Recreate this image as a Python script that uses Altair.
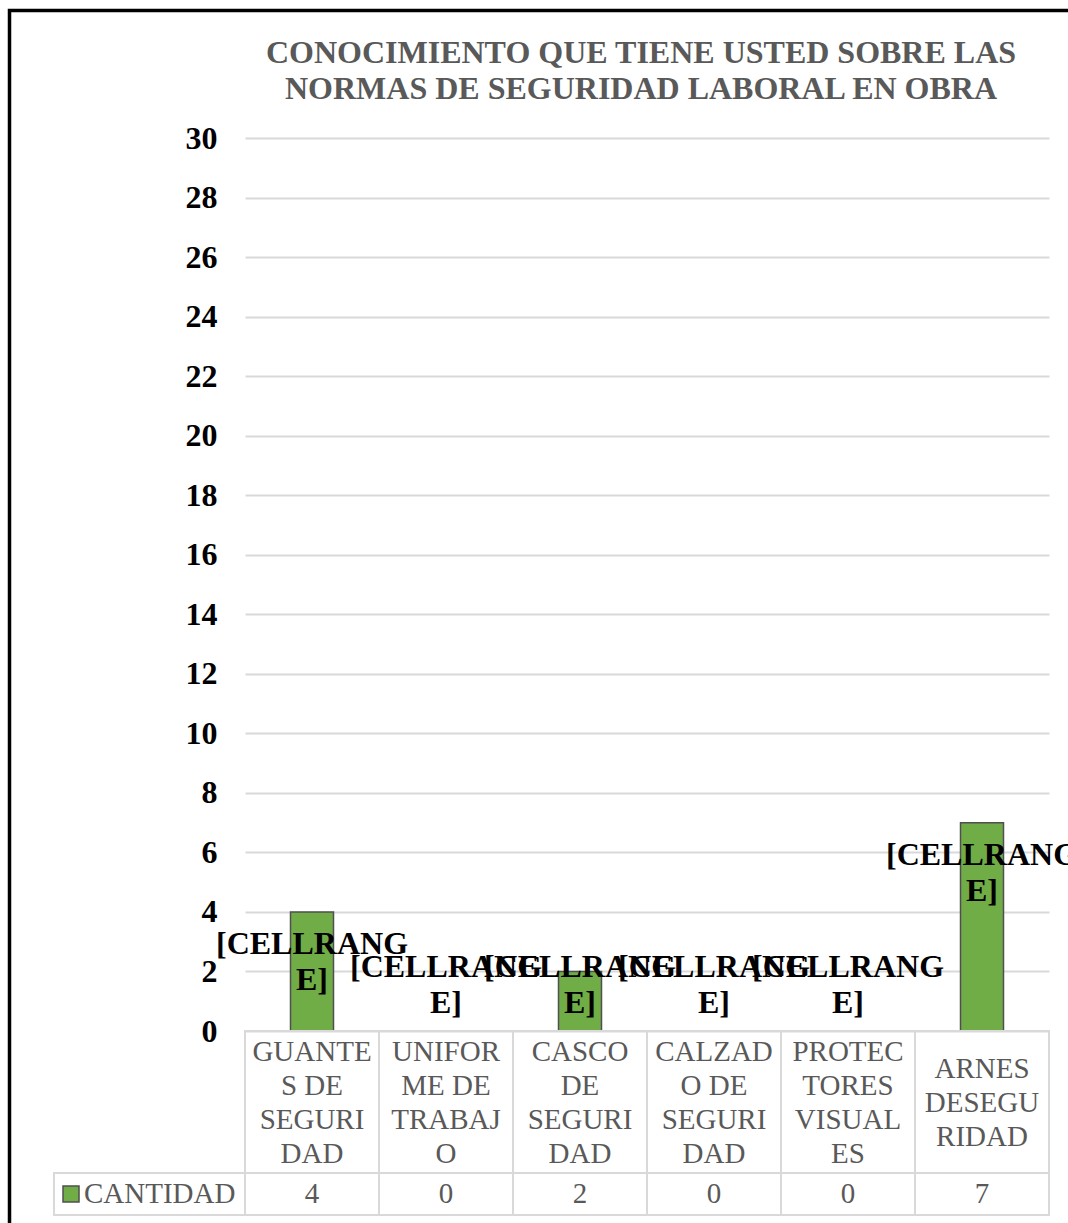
import altair as alt
import pandas as pd

# ---------------- data ----------------
CATEGORIES = [
    "GUANTES DE SEGURIDAD",
    "UNIFORME DE TRABAJO",
    "CASCO DE SEGURIDAD",
    "CALZADO DE SEGURIDAD",
    "PROTECTORES VISUALES",
    "ARNES DESEGURIDAD",
]
CATEGORY_LINES = [
    "GUANTE\nS DE\nSEGURI\nDAD",
    "UNIFOR\nME DE\nTRABAJ\nO",
    "CASCO\nDE\nSEGURI\nDAD",
    "CALZAD\nO DE\nSEGURI\nDAD",
    "PROTEC\nTORES\nVISUAL\nES",
    "ARNES\nDESEGU\nRIDAD",
]
VALUES = [4, 0, 2, 0, 0, 7]
SERIES_NAME = "CANTIDAD"
DATA_LABEL = "[CELLRANG\nE]"
TITLE = "CONOCIMIENTO QUE TIENE USTED SOBRE LAS\nNORMAS DE SEGURIDAD LABORAL EN OBRA"
Y_TICKS = list(range(0, 31, 2))

# ---------------- layout / style ----------------
W, H = 804, 893
ROW1, ROW2 = 142, 42
CAT_LH = 34
FONT = "Liberation Serif"
GREEN = "#70AD47"
GRAY_TXT = "#595959"
GRID = "#d9d9d9"

df = pd.DataFrame({
    "cat": CATEGORIES,
    "wrapped": CATEGORY_LINES,
    "value": VALUES,
    "label": [DATA_LABEL] * len(CATEGORIES),
    "nlines": [s.count("\n") + 1 for s in CATEGORY_LINES],
})
legend_df = pd.DataFrame({"s": [SERIES_NAME]})
title_df = pd.DataFrame({"t": [TITLE]})

x = alt.X("cat:N", sort=CATEGORIES, axis=None,
          scale=alt.Scale(paddingInner=0, paddingOuter=0))
yscale = alt.Scale(domain=[0, 30], nice=False)
yaxis = alt.Axis(values=Y_TICKS, labelFont=FONT, labelFontWeight="bold",
                 labelFontSize=32, labelColor="black", labelPadding=28,
                 domain=False, ticks=False, grid=True, gridColor=GRID,
                 gridWidth=2, title=None)

base = alt.Chart(df)

bars = base.mark_bar(size=43, color=GREEN, stroke="#4F4F4F", strokeWidth=1.5).encode(
    x=x,
    y=alt.Y("value:Q", scale=yscale, axis=yaxis, title=None),
)

labels = base.transform_calculate(pos="max(datum.value, 3.24)").mark_text(
    font=FONT, fontWeight="bold", fontSize=32, color="black", baseline="top",
    lineBreak="\n", lineHeight=36, dy=17,
).encode(
    x=x,
    y=alt.Y("pos:Q", scale=yscale, axis=yaxis, title=None),
    text="label:N",
)

row1 = base.mark_rect(fillOpacity=0, stroke=GRID, strokeWidth=2).encode(
    x=x, y=alt.value(H), y2=alt.value(H + ROW1))
row2 = base.mark_rect(fillOpacity=0, stroke=GRID, strokeWidth=2).encode(
    x=x, y=alt.value(H + ROW1), y2=alt.value(H + ROW1 + ROW2))

# category labels: one layer per line count so each block is centred in its cell
cat_layers = []
for n in sorted(set(df["nlines"])):
    top = H + ROW1 / 2 - (n - 1) * CAT_LH / 2 - 13
    cat_layers.append(
        base.transform_filter(alt.datum.nlines == n).mark_text(
            font=FONT, fontSize=29, color=GRAY_TXT, baseline="top",
            lineBreak="\n", lineHeight=CAT_LH,
        ).encode(x=x, y=alt.value(top), text="wrapped:N")
    )

val_text = base.mark_text(font=FONT, fontSize=29, color=GRAY_TXT, baseline="middle").encode(
    x=x, y=alt.value(H + ROW1 + ROW2 / 2), text="value:Q")

leg = alt.Chart(legend_df)
leg_cell = leg.mark_rect(fillOpacity=0, stroke=GRID, strokeWidth=2).encode(
    x=alt.value(-191), x2=alt.value(0),
    y=alt.value(H + ROW1), y2=alt.value(H + ROW1 + ROW2))
leg_sq = leg.mark_square(size=256, fill=GREEN, stroke="#4F4F4F", strokeWidth=1.5, opacity=1).encode(
    x=alt.value(-174), y=alt.value(H + ROW1 + ROW2 / 2))
leg_txt = leg.mark_text(font=FONT, fontSize=29, color=GRAY_TXT, align="left", baseline="middle").encode(
    x=alt.value(-161), y=alt.value(H + ROW1 + ROW2 / 2), text="s:N")

title_txt = alt.Chart(title_df).mark_text(
    font=FONT, fontSize=32, fontWeight="bold", color=GRAY_TXT, align="center",
    baseline="top", lineBreak="\n", lineHeight=36,
).encode(x=alt.value(396), y=alt.value(-100), text="t:N")

frame = leg.mark_rect(fillOpacity=0, stroke="black", strokeWidth=3.5).encode(
    x=alt.value(-235.5), x2=alt.value(860),
    y=alt.value(-127.5), y2=alt.value(1110))

chart = alt.layer(
    bars, labels, row1, row2, *cat_layers, val_text, leg_cell, leg_sq, leg_txt,
    title_txt, frame
).properties(
    width=W, height=H,
    autosize=alt.AutoSizeParams(type="none"),
    padding={"left": 245, "top": 138, "right": 19, "bottom": 192},
).configure(background="white").configure_view(stroke=None)

chart.save("out.html", embed_options={"renderer": "svg", "actions": False})
